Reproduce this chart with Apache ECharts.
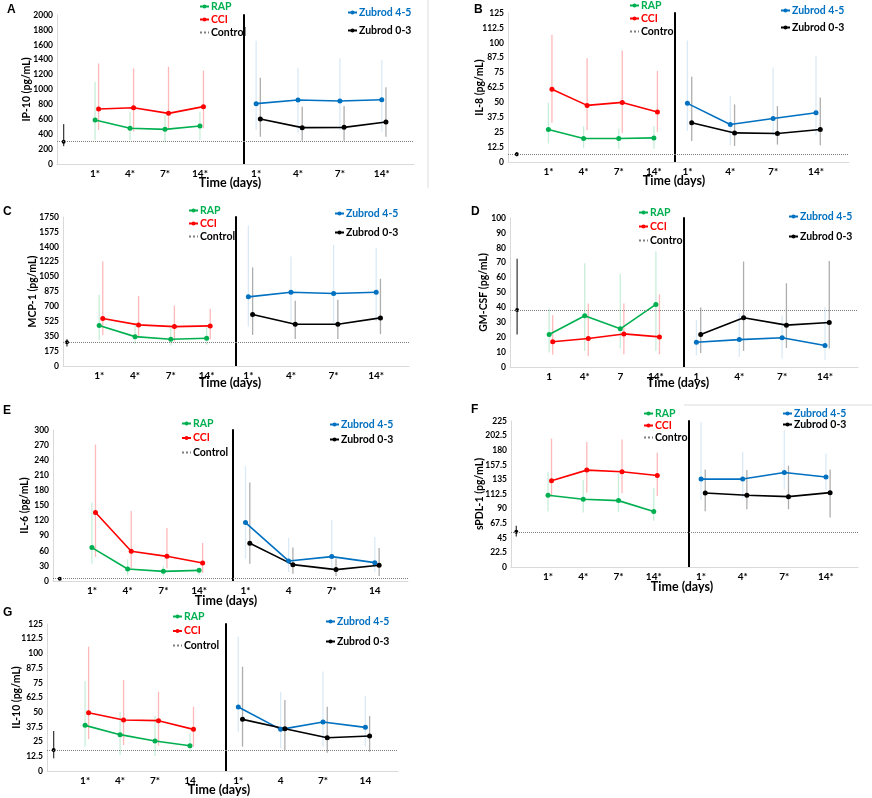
<!DOCTYPE html>
<html>
<head>
<meta charset="utf-8">
<script src="https://cdn.jsdelivr.net/npm/echarts@6/dist/echarts.min.js"></script>
<style>
  html, body { margin: 0; padding: 0; background: #fff; }
  #chart { width: 872px; height: 798px; }
</style>
</head>
<body>
<div id="chart"></div>
<script>
const GROUPS = ['RAP', 'CCI', 'Zubrod 4-5', 'Zubrod 0-3'];

// rows: RAP, CCI, Zubrod 4-5, Zubrod 0-3 ; columns: day 1, 4, 7, 14
const IP10_MEAN = [[590, 479, 465, 510], [738, 756, 680, 770], [810, 859, 846, 863], [604, 488, 492, 564]];
const IP10_LOW = [[322, 322, 300, 322], [456, 434, 456, 479], [456, 412, 456, 434], [367, 313, 313, 367]];
const IP10_HIGH = [[1105, 702, 658, 702], [1350, 1284, 1306, 1253], [1655, 1284, 1418, 1396], [1159, 770, 778, 1029]];
const IP10_CONTROL = [300, 240, 535];

const IL8_MEAN = [[27.2, 19.7, 19.7, 20.2], [61, 47.5, 50, 41.9], [49.2, 31.5, 36.5, 41.3], [32.9, 24.4, 23.9, 27.2]];
const IL8_LOW = [[15.4, 11.8, 11.2, 11.2], [32.9, 26.7, 24.4, 25.3], [26.1, 14, 22.5, 22.5], [17.7, 13.5, 14.6, 14]];
const IL8_HIGH = [[49.7, 30, 28, 30], [106.7, 87, 93.5, 76.4], [102, 55.3, 79.2, 89], [71.6, 48.3, 46.9, 54.2]];
const IL8_CONTROL = [6.5, 4.8, 8.4];

const MCP1_MEAN = [[475, 345, 314, 326], [557, 483, 463, 471], [812, 867, 852, 867], [604, 491, 491, 565]];
const MCP1_LOW = [[306, 260, 240, 250], [365, 345, 286, 314], [463, 522, 502, 522], [365, 318, 318, 373]];
const MCP1_HIGH = [[836, 500, 450, 460], [1228, 824, 710, 671], [1648, 1287, 1424, 1385], [1158, 765, 777, 1024]];
const MCP1_CONTROL = [279, 228, 314];

const GMCSF_MEAN = [[21.8, 34.4, 25.6, 42], [16.9, 19.1, 22.2, 20.2], [16.6, 18.4, 19.6, 14.4], [21.8, 33, 28.1, 29.9]];
const GMCSF_LOW = [[9.7, 10.8, 12.4, 10.8], [8.3, 7.4, 8.5, 8.5], [7.9, 6.7, 5.6, 4.9], [9.4, 10.8, 12.8, 12.4]];
const GMCSF_HIGH = [[39.3, 69.7, 62.2, 77.5], [34.8, 42.7, 42.7, 48.8], [31.5, 36, 34.8, 40.4], [40, 70.8, 56.2, 71.2]];
const GMCSF_CONTROL = [38.2, 21.8, 72.6];

const IL6_MEAN = [[66.4, 23.9, 19.2, 21.2], [136, 59, 49, 35.8], [116, 39.8, 48.5, 36.5], [75, 32.5, 22.6, 31.2]];
const IL6_LOW = [[34.5, 11.3, 10.6, 12.6], [47.8, 24.6, 24.6, 15.9], [44.5, 17.9, 21.2, 17.9], [34.5, 14.6, 9.3, 10]];
const IL6_HIGH = [[156, 43, 30, 26], [271, 139, 105.5, 75.7], [228, 85.6, 120.8, 87.6], [195.8, 66.4, 44.5, 65.7]];
const IL6_CONTROL = [4.6, 3, 6.5];

const SPDL1_MEAN = [[110.5, 104.3, 102.3, 85.4], [133, 149.3, 146.8, 141.1], [135.5, 135.5, 145.7, 138.6], [114, 110.5, 108.4, 114.6]];
const SPDL1_LOW = [[85.4, 83.9, 84.9, 71.1], [108.4, 114.6, 113.5, 109.4], [102.8, 105.9, 119.7, 118.7], [85.9, 89, 89, 76.2]];
const SPDL1_HIGH = [[146.8, 134, 144.3, 122.2], [197.9, 192.8, 196.4, 175.9], [223.5, 177.5, 210.7, 174.9], [150.3, 149.3, 156, 150.3]];
const SPDL1_CONTROL = [54.2, 47, 63.4];

const IL10_MEAN = [[38.8, 30.9, 25.5, 21.5], [49.6, 43.4, 42.8, 35.4], [54.4, 35.4, 41.7, 37.1], [43.9, 36, 28.3, 29.8]];
const IL10_LOW = [[20.7, 13.6, 12.8, 16.4], [27.2, 22.1, 21.5, 20.7], [33.4, 19.3, 20.7, 20.7], [20.7, 17.9, 15.6, 16.4]];
const IL10_HIGH = [[76.5, 50.4, 46.8, 32], [105.7, 77.4, 67.4, 54.7], [114.2, 67.2, 84.7, 63.8], [88.7, 60.4, 54.7, 46.8]];
const IL10_CONTROL = [17.9, 10.8, 34];

// x tick labels
const DAYS_ALL_SIG = ['1*', '4*', '7*', '14*'];
const DAYS_D_LEFT = ['1', '4*', '7', '14*'];
const DAYS_D_RIGHT = ['1', '4*', '7*', '14*'];
const DAYS_E_RIGHT = ['1*', '4', '7*', '14'];
const DAYS_G_LEFT = ['1*', '4*', '7*', '14'];

const PANELS = [
  { letter: 'A', name: 'IP-10 (pg/mL)', max: 2000, step: 200, mean: IP10_MEAN, low: IP10_LOW, high: IP10_HIGH, control: IP10_CONTROL, ticksL: DAYS_ALL_SIG, ticksR: DAYS_ALL_SIG },
  { letter: 'B', name: 'IL-8 (pg/mL)', max: 125, step: 12.5, mean: IL8_MEAN, low: IL8_LOW, high: IL8_HIGH, control: IL8_CONTROL, ticksL: DAYS_ALL_SIG, ticksR: DAYS_ALL_SIG },
  { letter: 'C', name: 'MCP-1 (pg/mL)', max: 1750, step: 175, mean: MCP1_MEAN, low: MCP1_LOW, high: MCP1_HIGH, control: MCP1_CONTROL, ticksL: DAYS_ALL_SIG, ticksR: DAYS_ALL_SIG },
  { letter: 'D', name: 'GM-CSF (pg/mL)', max: 100, step: 10, mean: GMCSF_MEAN, low: GMCSF_LOW, high: GMCSF_HIGH, control: GMCSF_CONTROL, ticksL: DAYS_D_LEFT, ticksR: DAYS_D_RIGHT },
  { letter: 'E', name: 'IL-6 (pg/mL)', max: 300, step: 30, mean: IL6_MEAN, low: IL6_LOW, high: IL6_HIGH, control: IL6_CONTROL, ticksL: DAYS_ALL_SIG, ticksR: DAYS_E_RIGHT },
  { letter: 'F', name: 'sPDL-1 (pg/mL)', max: 225, step: 22.5, mean: SPDL1_MEAN, low: SPDL1_LOW, high: SPDL1_HIGH, control: SPDL1_CONTROL, ticksL: DAYS_ALL_SIG, ticksR: DAYS_ALL_SIG },
  { letter: 'G', name: 'IL-10 (pg/mL)', max: 125, step: 12.5, mean: IL10_MEAN, low: IL10_LOW, high: IL10_HIGH, control: IL10_CONTROL, ticksL: DAYS_G_LEFT, ticksR: DAYS_E_RIGHT }
];

// pixel layout of each panel (plot box, divider, legends, captions)
const LAYOUT = [
  { left: 57, divider: 244, right: 414, top: 15, bottom: 164, minL: -0.09, maxL: 5.26, nameGap: 25, letter: [7, 11], time: [230, 183], legL: [199, 1, 2], legR: [347, 7, 7] },
  { left: 508, divider: 675, right: 849, top: 13, bottom: 162, minL: -0.15, maxL: 4.6, nameGap: 23, letter: [474, 11], time: [674, 181], legL: [629, 0, 2], legR: [780, 5, 6] },
  { left: 63, divider: 236, right: 409, top: 217, bottom: 366, minL: -0.01, maxL: 4.82, nameGap: 25, letter: [3, 213], time: [230, 383], legL: [188, 205, 2], legR: [334, 208, 8] },
  { left: 510, divider: 684, right: 858, top: 218, bottom: 367, minL: -0.10, maxL: 4.79, nameGap: 21, letter: [471, 213], time: [678, 383], legL: [638, 207, 3], legR: [788, 211, 9] },
  { left: 53, divider: 233, right: 408, top: 430, bottom: 581, minL: -0.09, maxL: 4.95, nameGap: 23, letter: [3, 412], time: [226, 601], legL: [181, 418, 3.5], legR: [329, 419, 4] },
  { left: 511, divider: 689, right: 858, top: 421, bottom: 567, minL: -0.05, maxL: 5.0, nameGap: 26, letter: [471, 411], time: [682, 587], legL: [643, 408, 1], legR: [782, 408, 0] },
  { left: 47, divider: 226, right: 398, top: 624, bottom: 771, minL: -0.09, maxL: 5.03, nameGap: 25, letter: [3, 614], time: [219, 790], legL: [172, 611, 3.5], legR: [325, 616, 9] }
];

const COLORS = ['#00b050', '#ff0000', '#0070c0', '#000000'];
const ERR_COLORS = ['rgba(0,176,80,0.22)', 'rgba(255,0,0,0.28)', 'rgba(0,112,192,0.15)', 'rgba(0,0,0,0.32)'];
const CONTROL_X = 0.1;
const DODGE = 0.1;
const RIGHT_MIN = 0.71;
const RIGHT_MAX = 4.77;
const FONT = 'Lato, "Liberation Sans", sans-serif';

const chart = echarts.init(document.getElementById('chart'), null, { renderer: 'canvas' });

function errorBars(color) {
  return function (params, api) {
    const a = api.coord([api.value(0), api.value(1)]);
    const b = api.coord([api.value(0), api.value(2)]);
    return {
      type: 'line',
      shape: { x1: a[0], y1: a[1], x2: b[0], y2: b[1] },
      style: { stroke: color, lineWidth: 1.3 }
    };
  };
}

const grid = [], xAxis = [], yAxis = [], series = [], legend = [], graphic = [];

PANELS.forEach((p, i) => {
  const L = LAYOUT[i];
  const h = L.bottom - L.top;
  const gl = 2 * i, gr = 2 * i + 1;

  grid.push({ left: L.left, top: L.top, width: L.divider - L.left, height: h });
  grid.push({ left: L.divider, top: L.top, width: L.right - L.divider, height: h });

  [[gl, L.minL, L.maxL, p.ticksL], [gr, RIGHT_MIN, RIGHT_MAX, p.ticksR]].forEach(([g, mn, mx, ticks]) => {
    xAxis.push({
      type: 'value', gridIndex: g, min: mn, max: mx,
      axisLine: { show: true, onZero: false, lineStyle: { color: '#d9d9d9', width: 1 } },
      axisTick: { show: false },
      splitLine: { show: false },
      axisLabel: {
        customValues: [1, 2, 3, 4],
        formatter: v => ticks[Math.round(v) - 1],
        margin: 5, color: '#000', fontFamily: FONT, fontWeight: 'bold', fontSize: 10
      }
    });
  });

  yAxis.push({
    type: 'value', gridIndex: gl, min: 0, max: p.max, interval: p.step,
    name: p.name, nameLocation: 'middle', nameGap: L.nameGap, nameMoveOverlap: false,
    nameTextStyle: { color: '#000', fontFamily: FONT, fontWeight: 'bold', fontSize: 10.5 },
    axisLine: { show: true, onZero: false, lineStyle: { color: '#d9d9d9', width: 1 } },
    axisTick: { show: false },
    splitLine: { show: false },
    axisLabel: {
      margin: 4, color: '#000', fontFamily: FONT, fontWeight: 'bold', fontSize: 8.5,
      formatter: v => String(v)
    }
  });
  yAxis.push({
    type: 'value', gridIndex: gr, min: 0, max: p.max, interval: p.step,
    axisLine: { show: true, onZero: false, lineStyle: { color: '#000', width: 2 } },
    axisTick: { show: false },
    axisLabel: { show: false },
    splitLine: { show: false }
  });

  // control: one point, its SD bar and the dotted reference across both halves
  const ctrlLine = { type: 'dotted', color: '#7f7f7f', width: 1 };
  series.push({
    type: 'custom', name: 'Control SD', xAxisIndex: gl, yAxisIndex: gl, z: 2,
    renderItem: errorBars('#404040'),
    encode: { x: 0, y: [1, 2] },
    data: [[CONTROL_X, p.control[1], p.control[2]]]
  });
  series.push({
    type: 'line', name: 'Control', xAxisIndex: gl, yAxisIndex: gl, z: 4,
    symbol: 'circle', symbolSize: 4,
    itemStyle: { color: '#000' },
    lineStyle: ctrlLine,
    data: [[CONTROL_X, p.control[0]]],
    markLine: { silent: true, symbol: 'none', label: { show: false }, lineStyle: ctrlLine, data: [{ yAxis: p.control[0] }] }
  });

  GROUPS.forEach((name, g) => {
    const axis = g < 2 ? gl : gr;
    const dx = g % 2 === 1 ? DODGE : 0;
    series.push({
      type: 'custom', name: name + ' SD', xAxisIndex: axis, yAxisIndex: axis, z: 2,
      renderItem: errorBars(ERR_COLORS[g]),
      encode: { x: 0, y: [1, 2] },
      data: p.low[g].map((lo, k) => [k + 1 + dx, lo, p.high[g][k]])
    });
    const s = {
      type: 'line', name: name, xAxisIndex: axis, yAxisIndex: axis, z: 3,
      symbol: 'circle', symbolSize: 5,
      itemStyle: { color: COLORS[g] },
      lineStyle: { color: COLORS[g], width: 1.6 },
      data: p.mean[g].map((v, k) => [k + 1 + dx, v])
    };
    if (g === 2) {
      s.markLine = { silent: true, symbol: 'none', label: { show: false }, lineStyle: ctrlLine, data: [{ yAxis: p.control[0] }] };
    }
    series.push(s);
  });

  const legendBase = {
    orient: 'vertical', padding: 0, itemWidth: 9, itemHeight: 5, selectedMode: false,
    textStyle: { fontFamily: FONT, fontWeight: 'bold', fontSize: 10.5, padding: [0, 0, 0, -3] }
  };
  legend.push(Object.assign({}, legendBase, {
    left: L.legL[0], top: L.legL[1], itemGap: L.legL[2],
    data: [
      { name: 'RAP', textStyle: { color: COLORS[0] } },
      { name: 'CCI', textStyle: { color: COLORS[1] } },
      { name: 'Control', itemStyle: { opacity: 0 }, textStyle: { color: '#000' } }
    ]
  }));
  legend.push(Object.assign({}, legendBase, {
    left: L.legR[0], top: L.legR[1], itemGap: L.legR[2],
    data: [
      { name: 'Zubrod 4-5', textStyle: { color: COLORS[2] } },
      { name: 'Zubrod 0-3', textStyle: { color: COLORS[3] } }
    ]
  }));

  graphic.push({
    type: 'text', left: L.letter[0], top: L.letter[1] - 7,
    style: { text: p.letter, fill: '#000', font: 'bold 12px "Liberation Sans", Arial, sans-serif' }
  });
  graphic.push({
    type: 'text', x: L.time[0], y: L.time[1],
    style: { text: 'Time (days)', fill: '#000', font: 'bold 12.5px ' + FONT, align: 'center', verticalAlign: 'middle' }
  });
});

// faint frame lines left over in the source figure
graphic.push({ type: 'line', shape: { x1: 428, y1: 0, x2: 428, y2: 188 }, style: { stroke: '#dcdcdc', lineWidth: 1 } });
graphic.push({ type: 'line', shape: { x1: 684, y1: 405, x2: 872, y2: 405 }, style: { stroke: '#dcdcdc', lineWidth: 1 } });

chart.setOption({
  animation: false,
  backgroundColor: '#fff',
  grid, xAxis, yAxis, series, legend, graphic
});
</script>
</body>
</html>
